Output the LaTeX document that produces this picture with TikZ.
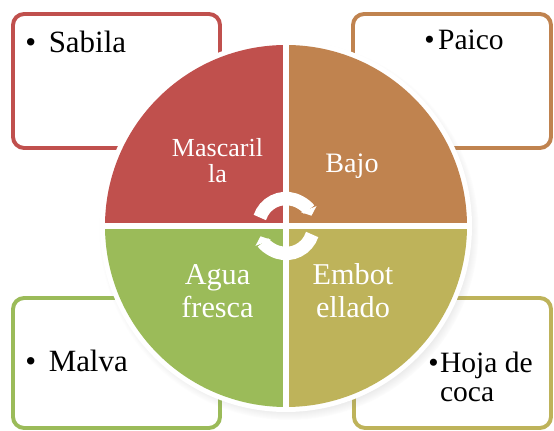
\documentclass[tikz,border=0pt]{standalone}
\usepackage{fontspec}
\setmainfont{Liberation Serif}
\usetikzlibrary{arrows.meta, shadows, positioning}
\definecolor{redQ}{HTML}{C0504D}
\definecolor{brownQ}{HTML}{C0834F}
\definecolor{greenQ}{HTML}{9BBB59}
\definecolor{oliveQ}{HTML}{BEB35A}

\begin{document}
\begin{tikzpicture}[x=0.025cm, y=0.025cm,
    box/.style={draw=#1, line width=2.8pt, rounded corners=8pt, rectangle},
    item/.style={anchor=base west, inner sep=0pt, align=left},
    quad/.style={text=white, align=center, inner sep=0pt, anchor=base},
    cyc/.style={white, line width=9.5pt}]
    \useasboundingbox (0,0) rectangle (554,431);

    % boxes behind the circle
    \node[box=redQ, minimum width=5.175cm, minimum height=3.35cm] (sabilaBox) at (116.5,350) {};
    \node[box=brownQ, minimum width=4.95cm, minimum height=3.35cm] (paicoBox) at (452,350) {};
    \node[box=greenQ, minimum width=5.175cm, minimum height=3.25cm] (malvaBox) at (116.5,68) {};
    \node[box=oliveQ, minimum width=4.925cm, minimum height=3.25cm] (hojaBox) at (452.5,68) {};

    \node[item, font=\fontsize{22}{26}\selectfont] (sabila) at (25,378) {\textbullet\hspace{9pt}Sabila};
    \node[item, font=\fontsize{21}{25}\selectfont] (paico) at (424,381) {\textbullet\hspace{2.5pt}Paico};
    \node[item, font=\fontsize{22}{26}\selectfont] (malva) at (25,59) {\textbullet\hspace{9pt}Malva};
    \node[item, font=\fontsize{21}{21.3}\selectfont] (hoja) at (428,29)
        {\textbullet\hspace{1pt}Hoja de\\\hphantom{\textbullet\hspace{1pt}}coca};

    % the circle
    \coordinate (hub) at (286,205);
    \fill[white, circular drop shadow={shadow xshift=2pt, shadow yshift=-3pt, shadow scale=1.02, opacity=0.45}]
        (hub) circle[radius=186];
    \fill[brownQ] (hub) -- ++(0:181) arc[start angle=0, end angle=90, radius=181] -- cycle;
    \fill[redQ] (hub) -- ++(90:181) arc[start angle=90, end angle=180, radius=181] -- cycle;
    \fill[greenQ] (hub) -- ++(180:181) arc[start angle=180, end angle=270, radius=181] -- cycle;
    \fill[oliveQ] (hub) -- ++(270:181) arc[start angle=270, end angle=360, radius=181] -- cycle;
    \draw[white, line width=3.6pt] ([shift={(-183,0)}]hub) -- ([shift={(183,0)}]hub);
    \draw[white, line width=3.6pt] ([shift={(0,-183)}]hub) -- ([shift={(0,183)}]hub);

    \node[quad, font=\fontsize{18.5}{18.5}\selectfont] (mascarilla) at (217.5,248) {Mascaril\\la};
    \node[quad, font=\fontsize{20}{23}\selectfont] (bajo) at (352,258) {Bajo};
    \node[quad, font=\fontsize{21.5}{23.5}\selectfont] (agua) at (217.5,113) {Agua\\fresca};
    \node[quad, font=\fontsize{21.5}{23.5}\selectfont] (embot) at (353,113) {Embot\\ellado};

    % cycle arrows in the middle
    \draw[cyc, -{Triangle[length=5pt, width=11.5pt]}] ([shift={(162:27.5)}]hub) arc[start angle=162, end angle=22, radius=27.5];
    \draw[cyc, -{Triangle[length=5pt, width=11.5pt]}] ([shift={(-18:27.5)}]hub) arc[start angle=-18, end angle=-158, radius=27.5];
\end{tikzpicture}
\end{document}
